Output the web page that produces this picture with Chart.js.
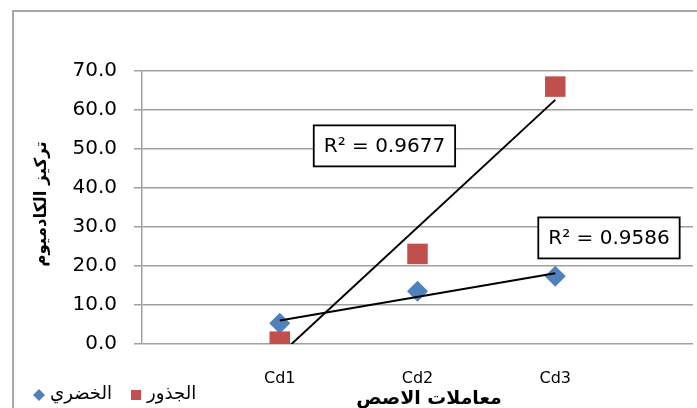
<!DOCTYPE html>
<html>
<head>
<meta charset="utf-8">
<script src="https://cdn.jsdelivr.net/npm/chart.js@4/dist/chart.umd.min.js"></script>
<style>
  html, body { margin: 0; padding: 0; background: #fff; }
  canvas { display: block; }
</style>
</head>
<body>
<canvas id="chart" width="697" height="408"></canvas>
<script>
const categories = ["Cd1", "Cd2", "Cd3"];
const shootValues = [5.3, 13.5, 17.4];   // الخضري
const rootValues = [0.6, 23.1, 66.0];    // الجذور
const yTicks = [0, 10, 20, 30, 40, 50, 60, 70];
const seriesNames = ["الخضري", "الجذور"];
const r2Labels = ["R² = 0.9677", "R² = 0.9586"];
const r2Anchors = [[1.76, 50.8], [3.39, 27.2]]; // label centres, in data units

const BLUE = "#4f81bd";
const RED = "#c0504d";
const GRID = "#a0a0a0";
const FONT = "'DejaVu Sans', sans-serif";

function points(values) {
  return values.map((v, i) => ({ x: i + 1, y: v }));
}

// linear least squares, same as the Excel trendline
function trend(values) {
  const n = values.length;
  const xs = values.map((v, i) => i + 1);
  const mx = xs.reduce((a, b) => a + b, 0) / n;
  const my = values.reduce((a, b) => a + b, 0) / n;
  let sxy = 0, sxx = 0;
  xs.forEach((x, i) => { sxy += (x - mx) * (values[i] - my); sxx += (x - mx) * (x - mx); });
  const slope = sxy / sxx;
  return [1, n].map(x => ({ x: x, y: my + slope * (x - mx) }));
}

function fitFont(ctx, text, weight, width) {
  ctx.font = weight + " 100px " + FONT;
  const size = 100 * width / ctx.measureText(text).width;
  return weight + " " + size.toFixed(1) + "px " + FONT;
}

const decor = {
  id: "decor",
  beforeDraw(chart) {
    const ctx = chart.ctx;
    ctx.save();
    ctx.fillStyle = "#fff";
    ctx.fillRect(0, 0, chart.width, chart.height);
    ctx.strokeStyle = "#8c8c8c";
    ctx.lineWidth = 1.5;
    ctx.strokeRect(13, 11, chart.width + 20, chart.height + 20);
    ctx.restore();
  },
  afterDraw(chart) {
    const ctx = chart.ctx;
    const xs = chart.scales.x, ys = chart.scales.y;
    ctx.save();
    ctx.fillStyle = "#000";
    ctx.textBaseline = "middle";
    ctx.textAlign = "center";

    // y axis title
    const yTitle = "تركيز الكادميوم";
    ctx.font = fitFont(ctx, yTitle, "bold", 126);
    ctx.save();
    ctx.translate(42, 204);
    ctx.rotate(-Math.PI / 2);
    ctx.fillText(yTitle, 0, 0);
    ctx.restore();

    // x axis title
    const xTitle = "معاملات الاصص";
    ctx.font = fitFont(ctx, xTitle, "bold", 146);
    ctx.fillText(xTitle, 429, 399);

    // legend
    ctx.font = fitFont(ctx, seriesNames[0], "normal", 62);
    ctx.textAlign = "left";
    ctx.fillStyle = BLUE;
    ctx.beginPath();
    ctx.moveTo(39, 389); ctx.lineTo(45, 395); ctx.lineTo(39, 401); ctx.lineTo(33, 395);
    ctx.closePath();
    ctx.fill();
    ctx.fillStyle = "#000";
    ctx.fillText(seriesNames[0], 50, 394);
    ctx.fillStyle = RED;
    ctx.fillRect(131, 390, 10, 10);
    ctx.fillStyle = "#000";
    ctx.fillText(seriesNames[1], 147, 394);

    // R² boxes
    ctx.font = "20px " + FONT;
    ctx.textAlign = "center";
    r2Labels.forEach((label, i) => {
      const cx = xs.getPixelForValue(r2Anchors[i][0]);
      const cy = ys.getPixelForValue(r2Anchors[i][1]);
      const w = ctx.measureText(label).width + 20;
      const h = 41;
      ctx.fillStyle = "#fff";
      ctx.fillRect(cx - w / 2, cy - h / 2, w, h);
      ctx.strokeStyle = "#000";
      ctx.lineWidth = 1.8;
      ctx.strokeRect(cx - w / 2, cy - h / 2, w, h);
      ctx.fillStyle = "#000";
      ctx.fillText(label, cx, cy + 1);
    });
    ctx.restore();
  }
};

new Chart(document.getElementById("chart"), {
  type: "scatter",
  data: {
    datasets: [
      { type: "line", label: "trend roots", data: trend(rootValues), borderColor: "#000", borderWidth: 2, pointRadius: 0, order: 0 },
      { type: "line", label: "trend shoots", data: trend(shootValues), borderColor: "#000", borderWidth: 2, pointRadius: 0, order: 0 },
      { label: seriesNames[1], data: points(rootValues), pointStyle: "rect", pointRadius: 14.5, backgroundColor: RED, borderColor: RED, borderWidth: 0, order: 1 },
      { label: seriesNames[0], data: points(shootValues), pointStyle: "rectRot", pointRadius: 10.5, backgroundColor: BLUE, borderColor: BLUE, borderWidth: 0, order: 2 },
    ],
  },
  options: {
    responsive: false,
    animation: false,
    devicePixelRatio: 1,
    layout: { autoPadding: false, padding: { left: 0, top: 71, right: 4, bottom: 0 } },
    plugins: {
      legend: { display: false },
      tooltip: { enabled: false },
    },
    scales: {
      x: {
        type: "linear",
        min: 0,
        max: 4,
        afterBuildTicks: (scale) => { scale.ticks = categories.map((c, i) => ({ value: i + 1 })); },
        afterFit: (scale) => {
          scale.height = 64;
          scale.paddingLeft = 0;
          scale.paddingRight = 0;
        },
        grid: { display: false, drawTicks: false },
        border: { display: false },
        ticks: {
          autoSkip: false,
          maxRotation: 0,
          padding: 25,
          color: "#000",
          font: { family: FONT, size: 16 },
          callback: (v) => categories[v - 1],
        },
      },
      y: {
        min: yTicks[0],
        max: yTicks[yTicks.length - 1],
        afterBuildTicks: (scale) => { scale.ticks = yTicks.map(v => ({ value: v })); },
        afterFit: (scale) => {
          scale.width = 142;
          scale.paddingTop = 0;
          scale.paddingBottom = 0;
        },
        grid: { color: GRID, lineWidth: 1.5, tickLength: 8 },
        border: { color: GRID, width: 1.5 },
        ticks: {
          padding: 17,
          color: "#000",
          font: { family: FONT, size: 20 },
          callback: (v) => v.toFixed(1),
        },
      },
    },
  },
  plugins: [decor],
});
</script>
</body>
</html>
